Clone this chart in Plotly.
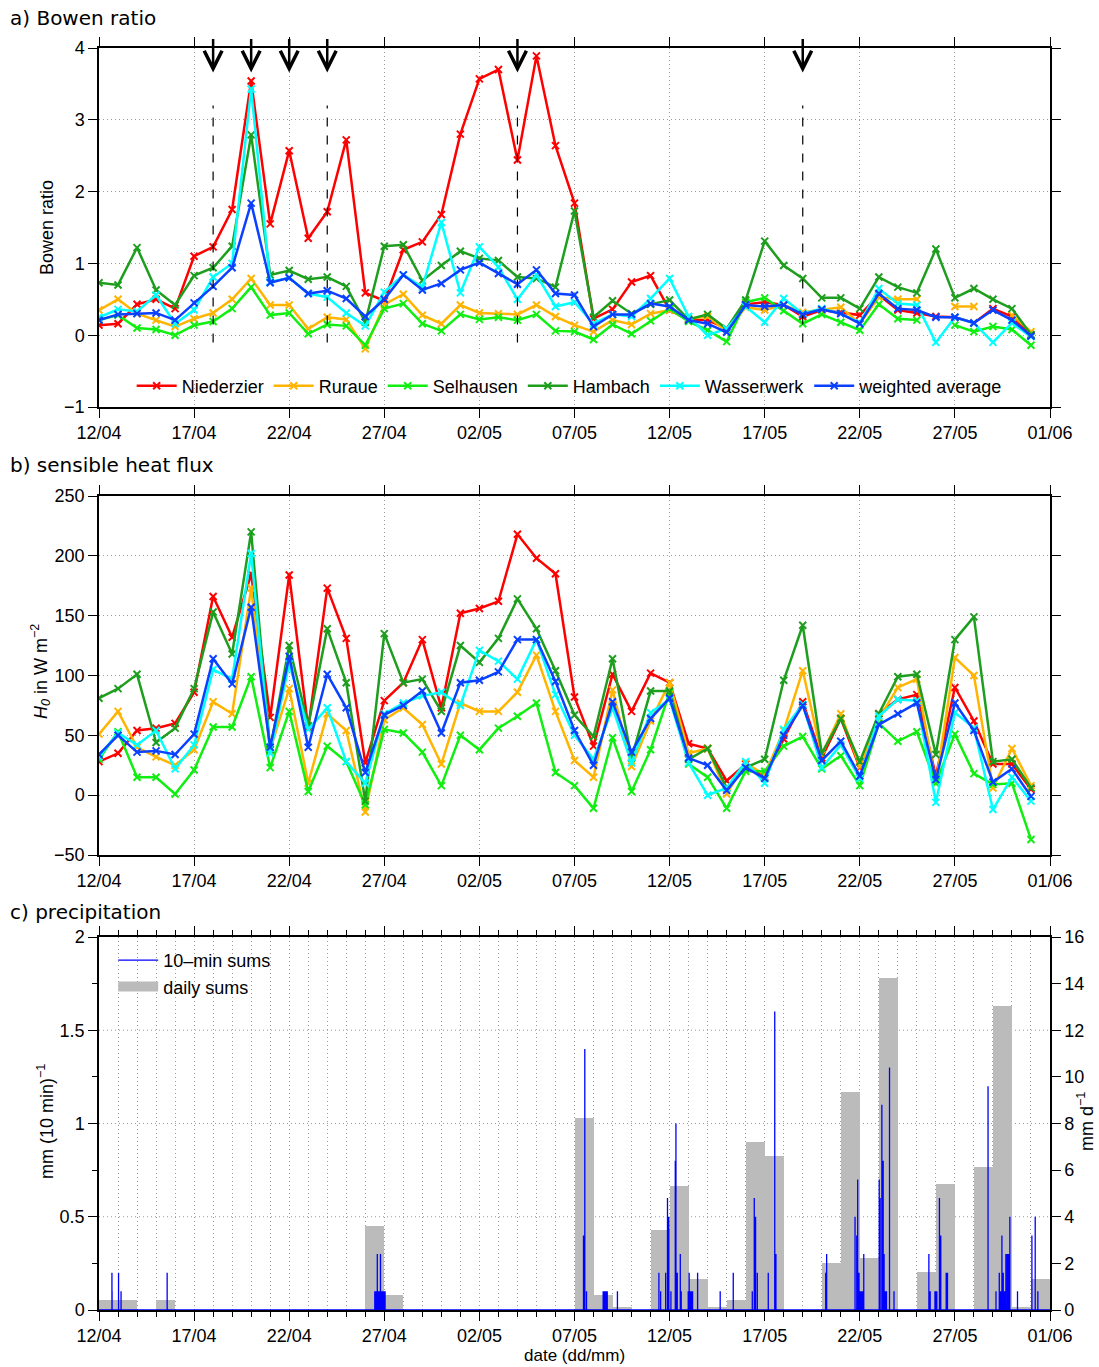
import numpy as np
import pandas as pd
import plotly.graph_objects as go

# ---------------- data ----------------
start = pd.Timestamp("2013-04-12")
dates = pd.date_range(start, periods=50, freq="D")

station_names = ["Niederzier", "Ruraue", "Selhausen", "Hambach", "Wasserwerk", "weighted average"]
station_colors = ["#FF0000", "#FFB400", "#11EE11", "#1E9E1E", "#00FFFF", "#0A40FF"]

bowen_niederzier = [0.14, 0.16, 0.43, 0.50, 0.37, 1.10, 1.23, 1.75, 3.54, 1.55,
                    2.57, 1.35, 1.72, 2.72, 0.59, 0.48, 1.19, 1.30, 1.68, 2.80,
                    3.57, 3.70, 2.44, 3.89, 2.64, 1.84, 0.23, 0.36, 0.74, 0.83,
                    0.35, 0.21, 0.21, 0.09, 0.43, 0.46, 0.42, 0.26, 0.35, 0.32,
                    0.28, 0.56, 0.35, 0.31, 0.26, 0.25, 0.17, 0.37, 0.26, 0.00]
bowen_ruraue = [0.35, 0.50, 0.30, 0.21, 0.12, 0.23, 0.31, 0.50, 0.79, 0.42,
                0.42, 0.09, 0.25, 0.22, -0.19, 0.43, 0.57, 0.28, 0.16, 0.42,
                0.31, 0.30, 0.29, 0.42, 0.26, 0.14, 0.05, 0.21, 0.15, 0.30,
                0.35, 0.23, 0.26, 0.05, 0.39, 0.35, 0.42, 0.32, 0.35, 0.39,
                0.16, 0.53, 0.50, 0.50, None, 0.40, 0.40, None, 0.28, 0.05]
bowen_selhausen = [0.21, 0.28, 0.10, 0.08, 0.00, 0.14, 0.19, 0.37, 0.67, 0.28,
                   0.31, 0.02, 0.15, 0.13, -0.14, 0.37, 0.44, 0.16, 0.06, 0.29,
                   0.22, 0.25, 0.21, 0.29, 0.06, 0.05, -0.06, 0.15, 0.02, 0.20,
                   0.37, 0.19, 0.07, -0.09, 0.46, 0.52, 0.34, 0.16, 0.29, 0.18,
                   0.07, 0.43, 0.23, 0.21, None, 0.14, 0.05, 0.12, 0.08, -0.14]
bowen_hambach = [0.73, 0.70, 1.22, 0.63, 0.42, 0.83, 0.94, 1.24, 2.79, 0.84,
                 0.90, 0.78, 0.81, 0.68, 0.18, 1.24, 1.26, 0.76, 0.97, 1.17,
                 1.07, 1.04, 0.81, 0.79, 0.67, 1.73, 0.25, 0.48, 0.30, 0.43,
                 0.49, 0.22, 0.29, 0.09, 0.49, 1.31, 0.97, 0.79, 0.52, 0.52,
                 0.37, 0.81, 0.67, 0.59, 1.20, 0.52, 0.65, 0.50, 0.37, 0.01]
bowen_wasserwerk = [0.25, 0.36, 0.33, 0.56, 0.16, 0.35, 0.81, 1.00, 3.43, 0.74,
                    0.80, 0.58, 0.53, 0.31, 0.13, 0.60, 0.84, 0.67, 1.57, 0.59,
                    1.23, 0.95, 0.50, 0.84, 0.40, 0.46, 0.16, 0.29, 0.26, 0.51,
                    0.79, 0.26, 0.00, 0.09, 0.40, 0.18, 0.51, 0.30, 0.37, 0.30,
                    0.17, 0.65, 0.44, 0.42, -0.10, 0.25, 0.17, -0.10, 0.17, -0.02]
bowen_average = [0.21, 0.29, 0.30, 0.31, 0.21, 0.45, 0.68, 0.94, 1.84, 0.73,
                 0.80, 0.58, 0.62, 0.51, 0.26, 0.50, 0.84, 0.63, 0.72, 0.91,
                 1.01, 0.86, 0.71, 0.91, 0.58, 0.56, 0.12, 0.29, 0.29, 0.44,
                 0.40, 0.21, 0.16, 0.04, 0.42, 0.40, 0.42, 0.29, 0.36, 0.30,
                 0.16, 0.58, 0.37, 0.35, 0.25, 0.25, 0.17, 0.35, 0.21, -0.01]

h_niederzier = [28, 35, 54, 56, 60, 86, 166, 132, 185, 65,
                184, 56, 173, 131, 27, 79, 94, 130, 73, 152,
                156, 162, 218, 198, 185, 82, 41, 101, 70, 102,
                94, 43, 39, 12, 26, 15, 47, 78, 31, 64,
                23, 68, 80, 84, 16, 90, 62, 26, 26, 5]
h_ruraue = [51, 70, 40, 32, 25, 38, 78, 68, 173, 38,
            89, 10, 68, 54, -14, 63, 73, 59, 26, 77,
            70, 70, 86, 117, 70, 29, 15, 88, 24, 62,
            94, 35, 39, 1, 27, 17, 54, 104, 34, 68,
            24, 64, 90, 97, 10, 115, 100, 6, 39, 8]
h_selhausen = [30, 53, 15, 15, 1, 21, 57, 57, 99, 23,
               70, 3, 41, 28, -8, 55, 52, 36, 8, 50,
               38, 56, 66, 77, 19, 8, -11, 48, 3, 38,
               86, 26, 15, -11, 20, 20, 41, 49, 22, 33,
               8, 60, 45, 53, 10, 51, 18, 9, 10, -37]
h_hambach = [81, 89, 101, 44, 56, 89, 153, 118, 220, 38,
             125, 58, 139, 94, -5, 135, 94, 97, 70, 125,
             111, 131, 164, 139, 104, 67, 49, 114, 31, 87,
             87, 30, 39, 6, 23, 30, 96, 142, 35, 64,
             28, 68, 99, 101, 34, 130, 149, 28, 30, 6]
h_wasserwerk = [32, 52, 42, 54, 22, 42, 105, 97, 202, 35,
                110, 55, 73, 28, 10, 68, 77, 83, 86, 75,
                121, 112, 97, 130, 84, 50, 30, 73, 27, 69,
                80, 27, 0, 6, 28, 10, 55, 76, 23, 42,
                14, 66, 80, 79, -6, 69, 56, -12, 15, -5]
h_average = [34, 50, 36, 37, 34, 51, 114, 93, 157, 40,
             116, 40, 101, 73, 19, 67, 75, 87, 52, 94,
             96, 103, 130, 130, 95, 54, 25, 78, 36, 64,
             81, 31, 25, 4, 23, 14, 50, 75, 29, 45,
             16, 59, 68, 77, 13, 77, 54, 11, 22, -1]

# daily precipitation sums (mm/d)
rain_daily = [0.43, 0.43, 0, 0.43, 0, 0, 0, 0, 0, 0,
              0, 0, 0, 0, 3.62, 0.64, 0, 0, 0, 0,
              0, 0, 0, 0, 0, 8.23, 0.64, 0.11, 0, 3.43,
              5.32, 1.33, 0.11, 0.43, 7.22, 6.62, 0, 0, 2.03, 9.33,
              2.22, 14.23, 0, 1.62, 5.41, 0, 6.12, 13.05, 0.11, 1.33]

# 10-min precipitation sums (mm per 10 min): day offset from 12/04 and amount
rain10_day = [0.68, 0.69, 1.03, 1.16, 3.58,
              14.50, 14.55, 14.60, 14.63, 14.66, 14.70, 14.75, 14.80, 14.85, 14.90, 14.95, 15.00, 15.04,
              25.47, 25.54, 25.63,
              26.51, 26.55, 26.58, 26.62, 26.65, 26.72, 27.26,
              29.44, 29.53, 29.79, 29.89, 29.96, 30.07, 30.30, 30.33, 30.40, 30.56, 30.61,
              30.98, 31.03, 31.06, 31.12, 31.17, 31.21, 31.47,
              32.66, 33.35, 34.35, 34.45, 34.52, 34.61, 35.19, 35.53, 35.59,
              38.21, 38.26, 39.75, 39.84, 39.89, 39.96, 40.02, 40.07, 40.11, 40.16, 40.21,
              41.02, 41.07, 41.16, 41.23, 41.28, 41.35, 41.40, 41.56, 41.80,
              43.63, 43.70, 43.95, 44.00, 44.05, 44.19, 44.26, 44.54, 44.61,
              46.74, 47.16, 47.33, 47.40, 47.47, 47.54, 47.61, 47.68, 47.75, 47.82, 47.89, 48.29,
              49.05, 49.22, 49.36]
rain10_mm = [0.2, 0.1, 0.2, 0.1, 0.2,
             0.1, 0.1, 0.1, 0.3, 0.1, 0.1, 0.1, 0.3, 0.1, 0.1, 0.1, 0.1, 0.1,
             0.4, 1.4, 0.1,
             0.1, 0.1, 0.1, 0.1, 0.1, 0.1, 0.1,
             0.2, 0.1, 0.2, 0.6, 0.5, 0.1, 0.8, 1.0, 0.2, 0.3, 0.1,
             0.1, 0.2, 0.1, 0.1, 0.1, 0.1, 0.2,
             0.1, 0.2, 0.1, 0.6, 0.5, 0.2, 0.2, 1.6, 0.3,
             0.2, 0.3, 0.5, 0.4, 0.7, 0.2, 0.1, 0.1, 0.1, 0.1, 0.3,
             0.7, 0.6, 1.1, 0.8, 0.3, 0.1, 0.1, 1.3, 0.1,
             0.3, 0.1, 0.1, 0.1, 0.1, 0.6, 0.4, 0.2, 0.2,
             1.2, 0.1, 0.2, 0.1, 0.4, 0.2, 0.1, 0.3, 0.3, 0.3, 0.5, 0.1,
             0.4, 0.5, 0.1]

event_days = [6, 8, 10, 12, 22, 37]       # arrows
dashed_days = [6, 12, 22, 37]             # dashed lines

x_ticks = ["12/04", "17/04", "22/04", "27/04", "02/05", "07/05", "12/05", "17/05", "22/05", "27/05", "01/06"]

# ---------------- figure ----------------
W, H = 1099, 1367
TXT = "Liberation Sans, Arial, sans-serif"
TITLEF = "DejaVu Sans, sans-serif"
GRID = "#9A9A9A"
GDASH = "1px,3px"
BARC = "#BBBBBB"

def px_y(p):
    return 1 - p / H

x0d, x1d = 99 / W, 1050 / W
dom_a = [px_y(407), px_y(48)]
dom_b = [px_y(855), px_y(496)]
dom_c = [px_y(1310), px_y(937)]

fig = go.Figure()

bowen = [bowen_niederzier, bowen_ruraue, bowen_selhausen, bowen_hambach, bowen_wasserwerk, bowen_average]
heat = [h_niederzier, h_ruraue, h_selhausen, h_hambach, h_wasserwerk, h_average]

for name, col, vals in zip(station_names, station_colors, bowen):
    fig.add_trace(go.Scatter(
        x=dates, y=vals, mode="lines+markers", name=name, connectgaps=False,
        line=dict(color=col, width=2.5),
        marker=dict(symbol="x-thin", size=7, line=dict(color=col, width=2)),
        xaxis="x", yaxis="y", legend="legend"))

for name, col, vals in zip(station_names, station_colors, heat):
    fig.add_trace(go.Scatter(
        x=dates, y=vals, mode="lines+markers", name=name, showlegend=False,
        line=dict(color=col, width=2.5),
        marker=dict(symbol="x-thin", size=7, line=dict(color=col, width=2)),
        xaxis="x2", yaxis="y2"))

# precipitation: daily sums as bars spanning each day (right axis, base layer)
bar_x = dates + pd.Timedelta(hours=12)
fig.add_trace(go.Bar(
    x=bar_x, y=rain_daily, width=86400000, name="daily sums", showlegend=False,
    marker=dict(color=BARC, line=dict(width=0)),
    xaxis="x3", yaxis="y3"))

# 10-min sums series (zeros except rain intervals), drawn as vertical spikes (left axis, overlay)
t_end = start + pd.Timedelta(days=50)
xs, ys = [start], [0.0]
for d, v in sorted(zip(rain10_day, rain10_mm)):
    t = start + pd.Timedelta(minutes=10 * int(round(d * 144)))
    xs += [t, t, t]
    ys += [0.0, v, 0.0]
xs.append(t_end)
ys.append(0.0)
fig.add_trace(go.Scatter(
    x=xs, y=ys, mode="lines", name="10\u2013min sums",
    line=dict(color="#0000FF", width=1.3, simplify=False),
    xaxis="x3", yaxis="y4", legend="legend2"))

# legend entry for the daily sums (wide grey box like the original)
fig.add_trace(go.Scatter(
    x=[None], y=[None], mode="lines", name="daily sums",
    line=dict(color=BARC, width=16),
    xaxis="x3", yaxis="y4", legend="legend2"))

# ---------------- axes ----------------
xr = [start, t_end]
tickvals = [start + pd.Timedelta(days=5 * i) for i in range(11)]
common_x = dict(type="date", range=xr, tickvals=tickvals, ticktext=x_ticks,
                showline=True, linecolor="black", linewidth=1.5, mirror="ticks",
                ticks="outside", ticklen=9, tickwidth=1.2, tickcolor="black",
                showgrid=True, gridcolor=GRID, griddash=GDASH, gridwidth=1,
                zeroline=False, tickfont=dict(family=TXT, size=18, color="black"),
                domain=[x0d, x1d], automargin=False)
common_y = dict(showline=True, linecolor="black", linewidth=1.5, mirror="ticks",
                ticks="outside", ticklen=9, tickwidth=1.2, tickcolor="black",
                showgrid=True, gridcolor=GRID, griddash=GDASH, gridwidth=1,
                zeroline=False, tickfont=dict(family=TXT, size=18, color="black"),
                automargin=False)

fig.update_layout(
    xaxis=dict(common_x, anchor="y"),
    yaxis=dict(common_y, domain=dom_a, range=[-1, 4], tickvals=[-1, 0, 1, 2, 3, 4],
               ticktext=["\u22121", "0", "1", "2", "3", "4"], anchor="x"),
    xaxis2=dict(common_x, anchor="y2"),
    yaxis2=dict(common_y, domain=dom_b, range=[-50, 250], tickvals=[-50, 0, 50, 100, 150, 200, 250],
                ticktext=["\u221250", "0", "50", "100", "150", "200", "250"], anchor="x2"),
    xaxis3=dict(common_x, anchor="y3",
                minor=dict(dtick=86400000, tick0=start, showgrid=True, gridcolor=GRID,
                           griddash=GDASH, ticks="outside", ticklen=5, tickcolor="black")),
    # right axis: daily sums (mm/d)
    yaxis3=dict(showline=True, linecolor="black", linewidth=1.5, side="right",
                ticks="outside", ticklen=9, tickwidth=1.2, tickcolor="black",
                showgrid=False, zeroline=False,
                domain=dom_c, range=[0, 16], tickvals=list(range(0, 17, 2)),
                ticktext=[str(v) for v in range(0, 17, 2)],
                tickfont=dict(family=TXT, size=18, color="black"),
                anchor="x3", automargin=False),
    # left axis: 10-min sums (mm per 10 min)
    yaxis4=dict(showline=True, linecolor="black", linewidth=1.5, side="left", overlaying="y3",
                ticks="outside", ticklen=9, tickwidth=1.2, tickcolor="black",
                showgrid=False, zeroline=False, range=[0, 2], tickvals=[0, 0.5, 1, 1.5, 2],
                ticktext=["0", "0.5", "1", "1.5", "2"],
                minor=dict(dtick=0.25, ticks="outside", ticklen=5, tickcolor="black", showgrid=False),
                tickfont=dict(family=TXT, size=18, color="black"),
                anchor="x3", automargin=False),
    width=W, height=H, margin=dict(l=0, r=0, t=0, b=0),
    paper_bgcolor="white", plot_bgcolor="white",
    bargap=0,
    legend=dict(orientation="h", x=0.1198, y=px_y(386), xanchor="left", yanchor="middle",
                font=dict(family=TXT, size=18, color="black"), bgcolor="rgba(0,0,0,0)",
                itemwidth=40, tracegroupgap=0),
    legend2=dict(orientation="v", x=0.103, y=px_y(942), xanchor="left", yanchor="top",
                 font=dict(family=TXT, size=18, color="black"), bgcolor="rgba(0,0,0,0)",
                 itemwidth=40, tracegroupgap=0),
    showlegend=True,
)

# horizontal grid in panel c every 0.5 mm (left axis)
for v in [0.5, 1.0, 1.5]:
    fig.add_shape(type="line", xref="x3", yref="y4", x0=start, x1=t_end, y0=v, y1=v,
                  line=dict(color=GRID, width=1, dash=GDASH), layer="below")

# panel titles
for txt, ypix in [("a) Bowen ratio", 18), ("b) sensible heat flux", 465), ("c) precipitation", 912)]:
    fig.add_annotation(text=txt, xref="paper", yref="paper", x=8 / W, y=px_y(ypix),
                       xanchor="left", yanchor="middle", showarrow=False,
                       font=dict(family=TITLEF, size=20, color="black"))

# axis titles
axis_titles = [
    ("Bowen ratio", 47, 228, -90),
    ("<i>H<sub>0</sub></i> in W m<sup>\u22122</sup>", 40, 672, -90),
    ("mm (10 min)<sup>\u22121</sup>", 45, 1122, -90),
    ("mm d<sup>\u22121</sup>", 1085, 1122, -90),
    ("date (dd/mm)", 575, 1355, 0),
]
for txt, xp, yp, ang in axis_titles:
    fig.add_annotation(text=txt, xref="paper", yref="paper", x=xp / W, y=px_y(yp),
                       xanchor="center", yanchor="middle", showarrow=False, textangle=ang,
                       font=dict(family=TXT, size=18 if ang else 17, color="black"))

# arrows
for d in event_days:
    fig.add_annotation(x=dates[d], y=3.66, xref="x", yref="y", ax=0, ay=-35, axref="pixel", ayref="pixel",
                       text="", showarrow=True, arrowhead=5, arrowsize=1.4, arrowwidth=2.5,
                       arrowcolor="black")
# dashed lines
for d in dashed_days:
    fig.add_shape(type="line", xref="x", yref="y", x0=dates[d], x1=dates[d], y0=-0.1, y1=3.2,
                  line=dict(color="black", width=1.2, dash="dash"))

fig.write_html("out.html")
